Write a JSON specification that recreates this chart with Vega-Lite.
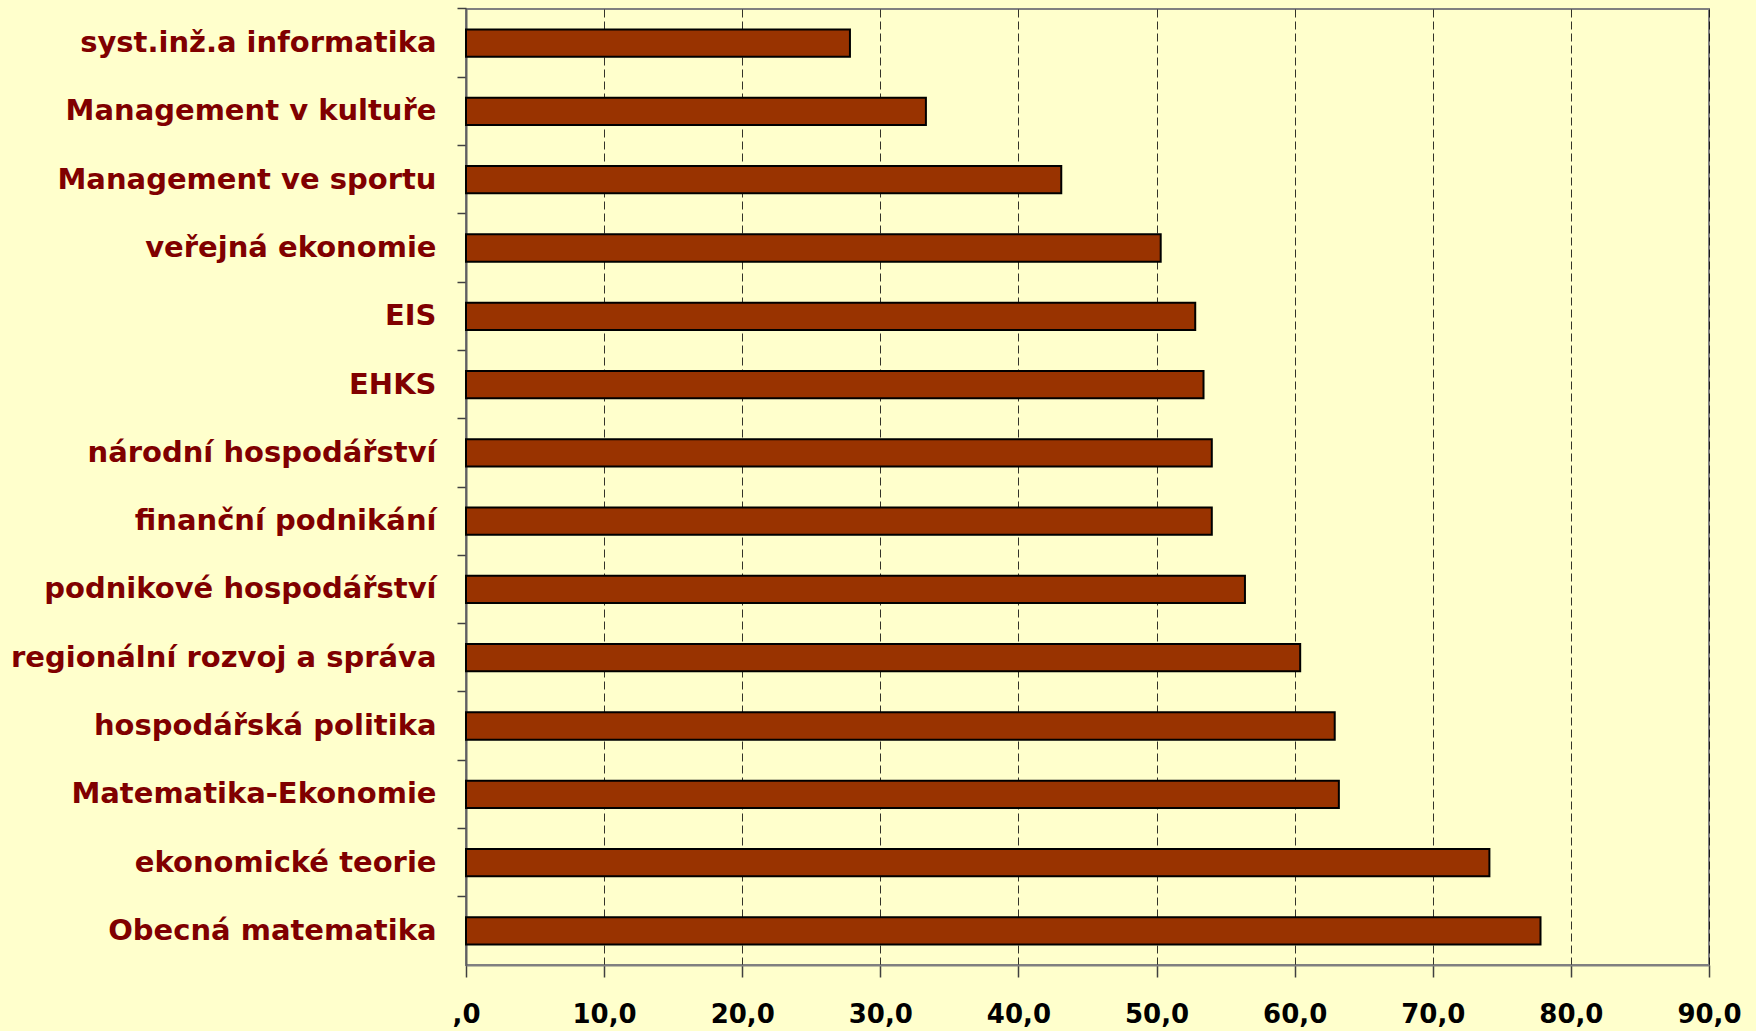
{
  "$schema": "https://vega.github.io/schema/vega-lite/v6.json",
  "autosize": {"type": "none"},
  "width": 1243,
  "height": 956,
  "padding": {"left": 466, "top": 9, "right": 47, "bottom": 66},
  "background": "#FFFFCC",
  "config": {
    "view": {"stroke": "#808080", "strokeWidth": 2},
    "font": "DejaVu Sans"
  },
  "data": {
    "values": [
      {"obor": "syst.inž.a informatika", "hodnota": 27.8},
      {"obor": "Management v kultuře", "hodnota": 33.3},
      {"obor": "Management ve sportu", "hodnota": 43.1},
      {"obor": "veřejná ekonomie", "hodnota": 50.3},
      {"obor": "EIS", "hodnota": 52.8},
      {"obor": "EHKS", "hodnota": 53.4},
      {"obor": "národní hospodářství", "hodnota": 54.0},
      {"obor": "finanční podnikání", "hodnota": 54.0},
      {"obor": "podnikové hospodářství", "hodnota": 56.4},
      {"obor": "regionální rozvoj a správa", "hodnota": 60.4},
      {"obor": "hospodářská politika", "hodnota": 62.9},
      {"obor": "Matematika-Ekonomie", "hodnota": 63.2},
      {"obor": "ekonomické teorie", "hodnota": 74.1},
      {"obor": "Obecná matematika", "hodnota": 77.8}
    ]
  },
  "mark": {"type": "bar", "fill": "#993300", "stroke": "#000000", "strokeWidth": 2},
  "encoding": {
    "y": {
      "field": "obor",
      "type": "nominal",
      "sort": null,
      "scale": {"paddingInner": 0.6, "paddingOuter": 0.3},
      "axis": {
        "title": null,
        "labelFont": "DejaVu Sans",
        "labelFontWeight": "bold",
        "labelFontSize": 29,
        "labelColor": "#800000",
        "labelLimit": 0,
        "labelPadding": 21,
        "tickSize": 9,
        "tickColor": "#404040",
        "tickWidth": 1.5,
        "bandPosition": -0.75,
        "domainColor": "#606060",
        "domainWidth": 2,
        "grid": false
      }
    },
    "x": {
      "field": "hodnota",
      "type": "quantitative",
      "scale": {"domain": [0, 90], "nice": false},
      "axis": {
        "title": null,
        "values": [0, 10, 20, 30, 40, 50, 60, 70, 80, 90],
        "labelExpr": "datum.value == 0 ? ',0' : replace(format(datum.value, '.1f'), '.', ',')",
        "labelFont": "DejaVu Sans",
        "labelFontWeight": "bold",
        "labelFontSize": 26,
        "labelColor": "#000000",
        "labelFlush": false,
        "labelOverlap": false,
        "labelPadding": 24,
        "tickSize": 12,
        "tickColor": "#404040",
        "tickWidth": 1.5,
        "domainColor": "#808080",
        "domainWidth": 2,
        "grid": true,
        "gridColor": "#000000",
        "gridDash": [8, 4],
        "gridWidth": 1,
        "gridOpacity": 0.8
      }
    }
  }
}
